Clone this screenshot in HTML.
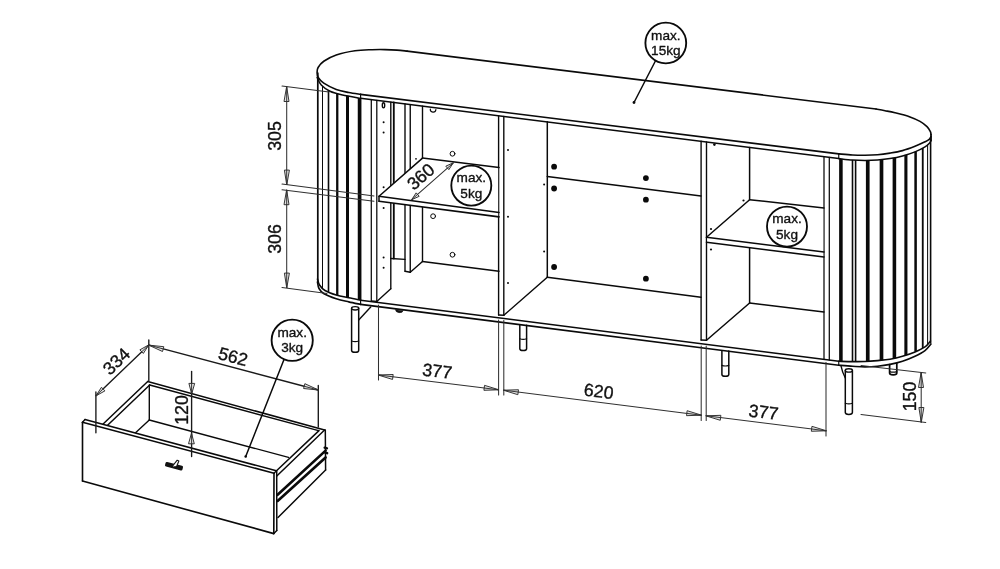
<!DOCTYPE html>
<html><head><meta charset="utf-8"><title>Sideboard dimensions</title>
<style>
html,body{margin:0;padding:0;background:#fff;}
body{width:1000px;height:569px;overflow:hidden;}
svg{display:block;will-change:transform;opacity:0.999;font-family:"Liberation Sans",sans-serif;}
</style></head><body>
<svg width="1000" height="569" viewBox="0 0 1000 569" stroke-linecap="round" stroke-linejoin="round">
<rect width="1000" height="569" fill="#fff"/>
<path d="M360.6,94.4 C358.62,94.08 352.81,93.33 348.75,92.5 C344.69,91.67 340.42,90.97 336.25,89.4 C332.08,87.83 326.76,85.08 323.75,83.1 C320.74,81.12 319.31,79.27 318.2,77.5 C317.09,75.73 317.12,74.17 317.1,72.5 C317.08,70.83 316.99,69.38 318.1,67.5 C319.21,65.62 320.73,63.33 323.75,61.25 C326.77,59.17 331.04,56.74 336.25,55 C341.46,53.26 349.04,51.68 355,50.8 C360.96,49.92 367.00,49.90 372,49.7 C377.00,49.50 380.83,49.53 385,49.6 C389.17,49.67 393.33,49.84 397,50.1 C400.67,50.36 405.33,50.98 407,51.15" stroke="#0a0a0a" stroke-width="1.61" fill="none" />
<line x1="407" y1="51.15" x2="876" y2="109" stroke="#0a0a0a" stroke-width="1.61" />
<path d="M876,109 C877.50,109.28 881.83,110.07 885,110.7 C888.17,111.33 890.83,111.77 895,112.8 C899.17,113.83 905.83,115.47 910,116.9 C914.17,118.33 917.17,119.78 920,121.4 C922.83,123.02 925.27,124.90 927,126.6 C928.73,128.30 929.73,130.28 930.4,131.6 C931.07,132.92 930.90,134.02 931,134.5" stroke="#0a0a0a" stroke-width="1.61" fill="none" />
<path d="M931,136.5 C930.70,136.98 930.20,138.52 929.2,139.4 C928.20,140.28 927.37,140.66 925,141.8 C922.63,142.94 918.75,144.78 915,146.25 C911.25,147.72 906.67,149.46 902.5,150.6 C898.33,151.74 894.17,152.41 890,153.1 C885.83,153.79 881.67,154.39 877.5,154.75 C873.33,155.11 869.17,155.21 865,155.25 C860.83,155.29 856.88,155.22 852.5,155 C848.12,154.78 841.04,154.08 838.75,153.9" stroke="#0a0a0a" stroke-width="1.61" fill="none" />
<line x1="838.75" y1="153.9" x2="360.6" y2="94.4" stroke="#0a0a0a" stroke-width="1.61" />
<path d="M360.6,98.3 C357.58,97.75 347.60,96.17 342.5,95 C337.40,93.83 333.54,92.92 330,91.25 C326.46,89.58 323.40,87.29 321.25,85 C319.10,82.71 317.79,78.75 317.1,77.5" stroke="#0a0a0a" stroke-width="1.49" fill="none" />
<line x1="360.6" y1="98.3" x2="838.75" y2="158.6" stroke="#0a0a0a" stroke-width="1.49" />
<path d="M838.75,158.6 C841.04,158.83 848.12,159.70 852.5,160 C856.88,160.30 860.83,160.40 865,160.4 C869.17,160.40 873.33,160.30 877.5,160 C881.67,159.70 885.83,159.27 890,158.6 C894.17,157.93 898.33,157.12 902.5,156 C906.67,154.88 911.25,153.42 915,151.9 C918.75,150.38 922.57,148.38 925,146.9 C927.43,145.42 928.60,144.07 929.6,143 C930.60,141.93 930.77,140.92 931,140.5" stroke="#0a0a0a" stroke-width="1.49" fill="none" />
<line x1="360.6" y1="94.4" x2="360.6" y2="98.3" stroke="#0a0a0a" stroke-width="1.15" />
<line x1="838.75" y1="153.9" x2="838.75" y2="158.6" stroke="#0a0a0a" stroke-width="1.15" />
<line x1="931" y1="134.5" x2="931" y2="140.5" stroke="#0a0a0a" stroke-width="1.72" />
<path d="M317.5,279 C317.83,280.00 318.25,283.08 319.5,285 C320.75,286.92 322.21,288.83 325,290.5 C327.79,292.17 332.29,293.78 336.25,295 C340.21,296.22 344.69,296.93 348.75,297.8 C352.81,298.68 358.62,299.84 360.6,300.25" stroke="#0a0a0a" stroke-width="1.61" fill="none" />
<path d="M317.5,282 C317.75,283.08 317.92,286.53 319,288.5 C320.08,290.47 321.12,292.09 324,293.8 C326.88,295.51 332.12,297.40 336.25,298.75 C340.38,300.10 344.69,300.96 348.75,301.9 C352.81,302.84 358.62,303.98 360.6,304.4" stroke="#0a0a0a" stroke-width="1.61" fill="none" />
<path d="M838.75,361.25 C841.04,361.31 848.12,361.56 852.5,361.6 C856.88,361.64 860.83,361.67 865,361.5 C869.17,361.33 873.33,360.98 877.5,360.6 C881.67,360.22 885.83,359.93 890,359.2 C894.17,358.47 898.33,357.47 902.5,356.25 C906.67,355.03 911.25,353.46 915,351.9 C918.75,350.34 922.42,348.72 925,346.9 C927.58,345.08 929.58,341.98 930.5,341" stroke="#0a0a0a" stroke-width="1.61" fill="none" />
<path d="M838.75,365.2 C841.04,365.38 848.12,365.97 852.5,366.25 C856.88,366.53 860.83,366.90 865,366.9 C869.17,366.90 873.33,366.67 877.5,366.25 C881.67,365.83 885.83,365.23 890,364.4 C894.17,363.57 898.33,362.61 902.5,361.25 C906.67,359.89 911.25,358.02 915,356.25 C918.75,354.48 922.33,352.64 925,350.6 C927.67,348.56 930.00,345.10 931,344" stroke="#0a0a0a" stroke-width="1.61" fill="none" />
<line x1="360.6" y1="300.25" x2="838.75" y2="361.25" stroke="#0a0a0a" stroke-width="1.61" />
<line x1="360.6" y1="304.4" x2="838.75" y2="365.2" stroke="#0a0a0a" stroke-width="1.61" />
<line x1="360.6" y1="300.25" x2="360.6" y2="304.4" stroke="#0a0a0a" stroke-width="1.15" />
<line x1="838.75" y1="361.25" x2="838.75" y2="365.2" stroke="#0a0a0a" stroke-width="1.15" />
<line x1="322.5" y1="85.9" x2="322.5" y2="288.0" stroke="#0a0a0a" stroke-width="1.03" stroke-linecap="butt"/>
<line x1="328.5" y1="90.2" x2="328.5" y2="291.9" stroke="#0a0a0a" stroke-width="1.61" stroke-linecap="butt"/>
<line x1="337.25" y1="93.4" x2="337.25" y2="295.2" stroke="#0a0a0a" stroke-width="2.3" stroke-linecap="butt"/>
<line x1="347.5" y1="95.9" x2="347.5" y2="297.5" stroke="#0a0a0a" stroke-width="2.99" stroke-linecap="butt"/>
<line x1="359.6" y1="98.1" x2="359.6" y2="300.0" stroke="#0a0a0a" stroke-width="3.68" stroke-linecap="butt"/>
<line x1="317.8" y1="73" x2="317.8" y2="283" stroke="#0a0a0a" stroke-width="1.72" />
<line x1="840.9" y1="158.8" x2="840.9" y2="361.3" stroke="#0a0a0a" stroke-width="3.56" stroke-linecap="butt"/>
<line x1="852.5" y1="160.0" x2="852.5" y2="361.6" stroke="#0a0a0a" stroke-width="1.61" stroke-linecap="butt"/>
<line x1="855.6" y1="160.1" x2="855.6" y2="361.6" stroke="#0a0a0a" stroke-width="1.61" stroke-linecap="butt"/>
<line x1="867.75" y1="160.3" x2="867.75" y2="361.3" stroke="#0a0a0a" stroke-width="3.68" stroke-linecap="butt"/>
<line x1="881.5" y1="159.6" x2="881.5" y2="360.2" stroke="#0a0a0a" stroke-width="3.68" stroke-linecap="butt"/>
<line x1="894.4" y1="157.7" x2="894.4" y2="358.2" stroke="#0a0a0a" stroke-width="3.56" stroke-linecap="butt"/>
<line x1="905.9" y1="154.9" x2="905.9" y2="355.1" stroke="#0a0a0a" stroke-width="3.1" stroke-linecap="butt"/>
<line x1="915.6" y1="151.6" x2="915.6" y2="351.6" stroke="#0a0a0a" stroke-width="2.53" stroke-linecap="butt"/>
<line x1="922.75" y1="148.0" x2="922.75" y2="348.0" stroke="#0a0a0a" stroke-width="1.84" stroke-linecap="butt"/>
<line x1="927.6" y1="144.7" x2="927.6" y2="344.1" stroke="#0a0a0a" stroke-width="1.03" stroke-linecap="butt"/>
<line x1="930.6" y1="138" x2="930.6" y2="343" stroke="#0a0a0a" stroke-width="1.61" />
<line x1="371.3" y1="99.6" x2="371.3" y2="301.0" stroke="#0a0a0a" stroke-width="1.26" />
<line x1="376.8" y1="100.3" x2="376.8" y2="301.4" stroke="#0a0a0a" stroke-width="1.26" />
<line x1="371.3" y1="301.0" x2="376.8" y2="301.4" stroke="#0a0a0a" stroke-width="1.26" />
<line x1="390.8" y1="102.1" x2="390.8" y2="288.8" stroke="#0a0a0a" stroke-width="1.38" />
<line x1="376.8" y1="301.4" x2="390.8" y2="288.8" stroke="#0a0a0a" stroke-width="1.38" />
<line x1="393.8" y1="102.5" x2="393.8" y2="258.5" stroke="#0a0a0a" stroke-width="1.84" />
<line x1="390.8" y1="258.5" x2="405" y2="259.4" stroke="#0a0a0a" stroke-width="1.38" />
<line x1="405" y1="103.9" x2="405" y2="271.25" stroke="#0a0a0a" stroke-width="1.38" />
<line x1="410.25" y1="104.6" x2="410.25" y2="272.25" stroke="#0a0a0a" stroke-width="1.38" />
<line x1="405" y1="271.25" x2="410.25" y2="272.25" stroke="#0a0a0a" stroke-width="1.38" />
<line x1="410.25" y1="272.25" x2="422.5" y2="261.5" stroke="#0a0a0a" stroke-width="1.38" />
<line x1="422.5" y1="106.1" x2="422.5" y2="261.5" stroke="#0a0a0a" stroke-width="1.38" />
<line x1="422.5" y1="261.5" x2="499" y2="271.2" stroke="#0a0a0a" stroke-width="1.49" />
<ellipse cx="383.5" cy="105.3" rx="1.2" ry="2.6" fill="#fff" stroke="#0a0a0a" stroke-width="1.4"/>
<circle cx="383.6" cy="122.25" r="1.0" fill="#0a0a0a"/>
<circle cx="383.6" cy="132.5" r="1.0" fill="#0a0a0a"/>
<circle cx="383.6" cy="187.25" r="1.0" fill="#0a0a0a"/>
<circle cx="383.6" cy="208.1" r="1.0" fill="#0a0a0a"/>
<circle cx="383.6" cy="257.5" r="1.0" fill="#0a0a0a"/>
<circle cx="383.6" cy="267.75" r="1.0" fill="#0a0a0a"/>
<circle cx="416" cy="158.8" r="0.9" fill="#0a0a0a"/>
<path d="M430.3,109 A2.8,2.8 0 0 0 435.9,109.6" stroke="#0a0a0a" stroke-width="1.15" fill="none" />
<circle cx="452.5" cy="153.75" r="2.4" stroke="#0a0a0a" stroke-width="1.0" fill="none"/>
<circle cx="433.1" cy="216.2" r="2.4" stroke="#0a0a0a" stroke-width="1.0" fill="none"/>
<circle cx="452.5" cy="254.75" r="2.4" stroke="#0a0a0a" stroke-width="1.0" fill="none"/>
<line x1="498.6" y1="115.7" x2="498.6" y2="315.0" stroke="#0a0a0a" stroke-width="1.38" />
<line x1="503.8" y1="116.4" x2="503.8" y2="315.3" stroke="#0a0a0a" stroke-width="1.38" />
<line x1="498.6" y1="315.0" x2="503.8" y2="315.3" stroke="#0a0a0a" stroke-width="1.38" />
<line x1="547.3" y1="121.8" x2="547.3" y2="277.25" stroke="#0a0a0a" stroke-width="1.49" />
<line x1="503.8" y1="315.3" x2="547.3" y2="277.25" stroke="#0a0a0a" stroke-width="1.49" />
<circle cx="508" cy="150" r="1.0" fill="#0a0a0a"/>
<circle cx="508" cy="216.8" r="1.0" fill="#0a0a0a"/>
<circle cx="544.1" cy="184.5" r="1.0" fill="#0a0a0a"/>
<circle cx="544.1" cy="251.6" r="1.0" fill="#0a0a0a"/>
<circle cx="508" cy="283" r="1.0" fill="#0a0a0a"/>
<line x1="547.3" y1="176.5" x2="701" y2="195.9" stroke="#0a0a0a" stroke-width="1.49" />
<line x1="547.3" y1="277.25" x2="701" y2="297.3" stroke="#0a0a0a" stroke-width="1.49" />
<circle cx="554.1" cy="166.7" r="2.9" fill="#0a0a0a"/>
<circle cx="554.1" cy="188.5" r="2.9" fill="#0a0a0a"/>
<circle cx="645.9" cy="178.1" r="2.9" fill="#0a0a0a"/>
<circle cx="645.9" cy="199.7" r="2.9" fill="#0a0a0a"/>
<circle cx="554.1" cy="267" r="2.9" fill="#0a0a0a"/>
<circle cx="645.9" cy="278.7" r="2.9" fill="#0a0a0a"/>
<line x1="701.1" y1="141.2" x2="701.1" y2="340.0" stroke="#0a0a0a" stroke-width="1.38" />
<line x1="706.5" y1="141.9" x2="706.5" y2="340.3" stroke="#0a0a0a" stroke-width="1.38" />
<line x1="701.1" y1="340.0" x2="706.5" y2="340.3" stroke="#0a0a0a" stroke-width="1.38" />
<line x1="749.6" y1="147.4" x2="749.6" y2="303" stroke="#0a0a0a" stroke-width="1.49" />
<line x1="706.5" y1="340.3" x2="749.6" y2="303" stroke="#0a0a0a" stroke-width="1.49" />
<line x1="749.6" y1="303" x2="824" y2="312" stroke="#0a0a0a" stroke-width="1.49" />
<line x1="824" y1="156.7" x2="824" y2="359.4" stroke="#0a0a0a" stroke-width="1.26" />
<line x1="829.3" y1="157.4" x2="829.3" y2="360.0" stroke="#0a0a0a" stroke-width="1.26" />
<circle cx="714.4" cy="144.6" r="1.3" fill="#0a0a0a"/>
<circle cx="743.5" cy="200.5" r="1.1" fill="#0a0a0a"/>
<circle cx="711" cy="229" r="1.1" fill="#0a0a0a"/>
<circle cx="711" cy="249.5" r="1.1" fill="#0a0a0a"/>
<path d="M422.5,158.1 L498.2,167.5 L498.2,216.8 L379,201.3 L379,196.3 Z" stroke="none" stroke-width="0.0" fill="#fff" />
<path d="M422.5,158.1 L379,196.3 L379,201.3" stroke="#0a0a0a" stroke-width="1.49" fill="none" />
<line x1="422.5" y1="158.1" x2="499" y2="167.6" stroke="#0a0a0a" stroke-width="1.49" />
<line x1="379" y1="196.3" x2="499" y2="212.5" stroke="#0a0a0a" stroke-width="1.61" />
<line x1="379" y1="201.3" x2="499" y2="216.9" stroke="#0a0a0a" stroke-width="1.61" />
<path d="M749.6,199.7 L823.2,207.9 L823.2,256.9 L707.3,242.4 L707.3,236.5 Z" stroke="none" stroke-width="0.0" fill="#fff" />
<line x1="749.6" y1="199.7" x2="824" y2="208" stroke="#0a0a0a" stroke-width="1.49" />
<line x1="749.6" y1="199.7" x2="706.5" y2="237.2" stroke="#0a0a0a" stroke-width="1.49" />
<line x1="706.5" y1="237.2" x2="824" y2="252" stroke="#0a0a0a" stroke-width="1.61" />
<line x1="706.5" y1="242.3" x2="824" y2="257" stroke="#0a0a0a" stroke-width="1.61" />
<line x1="282" y1="86" x2="329" y2="92" stroke="#303030" stroke-width="1.04" />
<line x1="282" y1="184" x2="374" y2="196" stroke="#303030" stroke-width="1.04" />
<line x1="282" y1="189.7" x2="374" y2="201.3" stroke="#303030" stroke-width="1.04" />
<line x1="282" y1="287.6" x2="327" y2="293.4" stroke="#303030" stroke-width="1.04" />
<line x1="286.7" y1="87" x2="286.7" y2="184.6" stroke="#303030" stroke-width="1.04" />
<path d="M286.70,87.00 L289.00,101.50 L284.40,101.50 Z" stroke="#303030" stroke-width="0.98" fill="#e2e2e2" />
<line x1="286.7" y1="101.5" x2="286.7" y2="87" stroke="#303030" stroke-width="0.98" />
<path d="M286.70,184.60 L284.40,170.10 L289.00,170.10 Z" stroke="#303030" stroke-width="0.98" fill="#e2e2e2" />
<line x1="286.7" y1="170.1" x2="286.7" y2="184.6" stroke="#303030" stroke-width="0.98" />
<line x1="286.7" y1="190.2" x2="286.7" y2="287.6" stroke="#303030" stroke-width="1.04" />
<path d="M286.70,190.20 L289.00,204.70 L284.40,204.70 Z" stroke="#303030" stroke-width="0.98" fill="#e2e2e2" />
<line x1="286.7" y1="204.7" x2="286.7" y2="190.2" stroke="#303030" stroke-width="0.98" />
<path d="M286.70,287.60 L284.40,273.10 L289.00,273.10 Z" stroke="#303030" stroke-width="0.98" fill="#e2e2e2" />
<line x1="286.7" y1="273.1" x2="286.7" y2="287.6" stroke="#303030" stroke-width="0.98" />
<text transform="translate(281.2,136) rotate(-90) scale(1.0,1)" font-size="17.8" text-anchor="middle" font-weight="normal" fill="#111" stroke="#111" stroke-width="0.35">305</text>
<text transform="translate(281.2,239) rotate(-90) scale(1.0,1)" font-size="17.8" text-anchor="middle" font-weight="normal" fill="#111" stroke="#111" stroke-width="0.35">306</text>
<line x1="453.1" y1="163.1" x2="411.9" y2="199.4" stroke="#303030" stroke-width="1.04" />
<path d="M453.10,163.10 L448.86,169.63 L446.08,166.48 Z" stroke="#303030" stroke-width="0.98" fill="#e2e2e2" />
<line x1="447.47" y1="168.06" x2="453.1" y2="163.1" stroke="#303030" stroke-width="0.98" />
<path d="M411.90,199.40 L416.14,192.87 L418.92,196.02 Z" stroke="#303030" stroke-width="0.98" fill="#e2e2e2" />
<line x1="417.53" y1="194.44" x2="411.9" y2="199.4" stroke="#303030" stroke-width="0.98" />
<text transform="translate(424.8,181.2) rotate(-41.3) scale(1.0,1)" font-size="17.8" text-anchor="middle" font-weight="normal" fill="#111" stroke="#111" stroke-width="0.35">360</text>
<circle cx="471.3" cy="185.6" r="20" stroke="#0a0a0a" stroke-width="1.85" fill="#fff"/>
<text transform="translate(471.3,182.2) rotate(0) scale(1.0,1)" font-size="13.6" text-anchor="middle" font-weight="normal" fill="#111" stroke="#111" stroke-width="0.35">max.</text>
<text transform="translate(471.3,197.7) rotate(0) scale(1.0,1)" font-size="13.6" text-anchor="middle" font-weight="normal" fill="#111" stroke="#111" stroke-width="0.35">5kg</text>
<circle cx="787.0" cy="226.6" r="20" stroke="#0a0a0a" stroke-width="1.85" fill="#fff"/>
<text transform="translate(787.0,223.2) rotate(0) scale(1.0,1)" font-size="13.6" text-anchor="middle" font-weight="normal" fill="#111" stroke="#111" stroke-width="0.35">max.</text>
<text transform="translate(787.0,238.7) rotate(0) scale(1.0,1)" font-size="13.6" text-anchor="middle" font-weight="normal" fill="#111" stroke="#111" stroke-width="0.35">5kg</text>
<line x1="655.4" y1="61" x2="634" y2="102.5" stroke="#0a0a0a" stroke-width="1.49" />
<circle cx="634" cy="102.5" r="1.4" fill="#0a0a0a"/>
<circle cx="665.8" cy="43" r="20.4" stroke="#0a0a0a" stroke-width="1.85" fill="#fff"/>
<text transform="translate(665.8,39.6) rotate(0) scale(1.0,1)" font-size="13.6" text-anchor="middle" font-weight="normal" fill="#111" stroke="#111" stroke-width="0.35">max.</text>
<text transform="translate(665.8,55.1) rotate(0) scale(1.0,1)" font-size="13.6" text-anchor="middle" font-weight="normal" fill="#111" stroke="#111" stroke-width="0.35">15kg</text>
<path d="M351.6,308.3 L351.6,350.4 Q351.6,352.2 355.15,352.2 Q358.7,352.2 358.7,350.4 L358.7,308.3" stroke="#0a0a0a" stroke-width="1.49" fill="#fff" />
<path d="M351.6,341.0 Q355.15,342.2 358.7,341.0" stroke="#0a0a0a" stroke-width="1.15" fill="none" />
<ellipse cx="355.15" cy="308.3" rx="3.549999999999983" ry="1.7" fill="#fff" stroke="#0a0a0a" stroke-width="1.4"/>
<line x1="358.7" y1="320" x2="370.7" y2="307" stroke="#0a0a0a" stroke-width="1.38" />
<path d="M395.5,309.8 A3.9,2.6 7 0 0 403.2,310.8 Z" fill="#111" stroke="#111" stroke-width="0.6"/>
<path d="M519.8,325.2 L519.8,348.8 Q519.8,350.6 523.2,350.6 Q526.6,350.6 526.6,348.8 L526.6,325.2" stroke="#0a0a0a" stroke-width="1.49" fill="none" />
<path d="M519.8,338.8 Q523.2,340.0 526.6,338.8" stroke="#0a0a0a" stroke-width="1.15" fill="none" />
<path d="M721.9,350.9 L721.9,374.4 Q721.9,376.2 725.3499999999999,376.2 Q728.8,376.2 728.8,374.4 L728.8,350.9" stroke="#0a0a0a" stroke-width="1.49" fill="none" />
<path d="M721.9,365.4 Q725.3499999999999,366.59999999999997 728.8,365.4" stroke="#0a0a0a" stroke-width="1.15" fill="none" />
<path d="M845.3,370.4 L845.3,412.59999999999997 Q845.3,414.4 848.8499999999999,414.4 Q852.4,414.4 852.4,412.59999999999997 L852.4,370.4" stroke="#0a0a0a" stroke-width="1.49" fill="#fff" />
<path d="M845.3,403.3 Q848.8499999999999,404.5 852.4,403.3" stroke="#0a0a0a" stroke-width="1.15" fill="none" />
<ellipse cx="848.8499999999999" cy="370.4" rx="3.5500000000000114" ry="1.7" fill="#fff" stroke="#0a0a0a" stroke-width="1.4"/>
<path d="M841,365.9 Q842.2,372 845.3,378" stroke="#0a0a0a" stroke-width="1.38" fill="none" />
<path d="M889.6,364.6 L889.6,373 Q889.6,374.8 893.2,374.8 Q896.8,374.8 896.8,373 L896.8,363.4" stroke="#0a0a0a" stroke-width="1.72" fill="none" />
<path d="M889.6,371.6 Q893.2,372.8 896.8,371.6" stroke="#0a0a0a" stroke-width="1.15" fill="none" />
<line x1="378.5" y1="305" x2="378.5" y2="380" stroke="#303030" stroke-width="1.04" />
<line x1="498.6" y1="320" x2="498.6" y2="395" stroke="#303030" stroke-width="1.04" />
<line x1="503.8" y1="320.5" x2="503.8" y2="395" stroke="#303030" stroke-width="1.04" />
<line x1="701.2" y1="346" x2="701.2" y2="420.5" stroke="#303030" stroke-width="1.04" />
<line x1="706.2" y1="346" x2="706.2" y2="420.5" stroke="#303030" stroke-width="1.04" />
<line x1="826" y1="362.5" x2="826" y2="436" stroke="#303030" stroke-width="1.04" />
<line x1="378.5" y1="375" x2="498.6" y2="389.8" stroke="#303030" stroke-width="1.04" />
<path d="M378.50,375.00 L393.17,374.49 L392.61,379.06 Z" stroke="#303030" stroke-width="0.98" fill="#e2e2e2" />
<line x1="392.89" y1="376.77" x2="378.5" y2="375" stroke="#303030" stroke-width="0.98" />
<path d="M498.60,389.80 L483.93,390.31 L484.49,385.74 Z" stroke="#303030" stroke-width="0.98" fill="#e2e2e2" />
<line x1="484.21" y1="388.03" x2="498.6" y2="389.8" stroke="#303030" stroke-width="0.98" />
<line x1="503.8" y1="390.2" x2="701.2" y2="415.2" stroke="#303030" stroke-width="1.04" />
<path d="M503.80,390.20 L518.47,389.74 L517.90,394.30 Z" stroke="#303030" stroke-width="0.98" fill="#e2e2e2" />
<line x1="518.19" y1="392.02" x2="503.8" y2="390.2" stroke="#303030" stroke-width="0.98" />
<path d="M701.20,415.20 L686.53,415.66 L687.10,411.10 Z" stroke="#303030" stroke-width="0.98" fill="#e2e2e2" />
<line x1="686.81" y1="413.38" x2="701.2" y2="415.2" stroke="#303030" stroke-width="0.98" />
<line x1="706.2" y1="415.8" x2="826" y2="430.8" stroke="#303030" stroke-width="1.04" />
<path d="M706.20,415.80 L720.87,415.32 L720.30,419.88 Z" stroke="#303030" stroke-width="0.98" fill="#e2e2e2" />
<line x1="720.59" y1="417.6" x2="706.2" y2="415.8" stroke="#303030" stroke-width="0.98" />
<path d="M826.00,430.80 L811.33,431.28 L811.90,426.72 Z" stroke="#303030" stroke-width="0.98" fill="#e2e2e2" />
<line x1="811.61" y1="429.0" x2="826" y2="430.8" stroke="#303030" stroke-width="0.98" />
<text transform="translate(436.5,377.2) rotate(7) scale(1.0,1)" font-size="17.8" text-anchor="middle" font-weight="normal" fill="#111" stroke="#111" stroke-width="0.35">377</text>
<text transform="translate(598,397.3) rotate(7) scale(1.0,1)" font-size="17.8" text-anchor="middle" font-weight="normal" fill="#111" stroke="#111" stroke-width="0.35">620</text>
<text transform="translate(762.8,418.2) rotate(7) scale(1.0,1)" font-size="17.8" text-anchor="middle" font-weight="normal" fill="#111" stroke="#111" stroke-width="0.35">377</text>
<line x1="861" y1="365.6" x2="925.8" y2="373" stroke="#303030" stroke-width="1.04" />
<line x1="861" y1="414.5" x2="925.8" y2="422.5" stroke="#303030" stroke-width="1.04" />
<line x1="921.2" y1="373" x2="921.2" y2="422" stroke="#303030" stroke-width="1.04" />
<path d="M921.20,373.00 L923.50,387.50 L918.90,387.50 Z" stroke="#303030" stroke-width="0.98" fill="#e2e2e2" />
<line x1="921.2" y1="387.5" x2="921.2" y2="373" stroke="#303030" stroke-width="0.98" />
<path d="M921.20,422.00 L918.90,407.50 L923.50,407.50 Z" stroke="#303030" stroke-width="0.98" fill="#e2e2e2" />
<line x1="921.2" y1="407.5" x2="921.2" y2="422" stroke="#303030" stroke-width="0.98" />
<text transform="translate(916,396.5) rotate(-90) scale(1.0,1)" font-size="17.8" text-anchor="middle" font-weight="normal" fill="#111" stroke="#111" stroke-width="0.35">150</text>
<line x1="147.7" y1="381.5" x2="324.6" y2="430" stroke="#0a0a0a" stroke-width="1.49" />
<line x1="149.7" y1="385" x2="318.5" y2="430.6" stroke="#0a0a0a" stroke-width="1.49" />
<line x1="147.7" y1="381.5" x2="103.1" y2="424" stroke="#0a0a0a" stroke-width="1.49" />
<line x1="149.7" y1="385" x2="107.6" y2="425.2" stroke="#0a0a0a" stroke-width="1.49" />
<line x1="149.3" y1="385" x2="149.3" y2="420" stroke="#0a0a0a" stroke-width="1.38" />
<line x1="149.3" y1="420" x2="135.8" y2="432.5" stroke="#0a0a0a" stroke-width="1.38" />
<line x1="149.3" y1="420" x2="288.5" y2="457.4" stroke="#0a0a0a" stroke-width="1.38" />
<line x1="324.6" y1="430" x2="276.8" y2="476" stroke="#0a0a0a" stroke-width="1.49" />
<line x1="319" y1="430.6" x2="276.5" y2="470.8" stroke="#0a0a0a" stroke-width="1.49" />
<line x1="325.3" y1="430" x2="325.6" y2="470" stroke="#0a0a0a" stroke-width="1.49" />
<line x1="325.6" y1="470" x2="278" y2="517.5" stroke="#0a0a0a" stroke-width="1.49" />
<line x1="325.6" y1="450.6" x2="277.6" y2="494.8" stroke="#0a0a0a" stroke-width="2.64" />
<line x1="325.6" y1="457.4" x2="277.6" y2="500.9" stroke="#0a0a0a" stroke-width="2.64" />
<line x1="324.6" y1="447.6" x2="327" y2="448.4" stroke="#0a0a0a" stroke-width="2.3" />
<line x1="324.6" y1="452.4" x2="327.2" y2="453.2" stroke="#0a0a0a" stroke-width="2.3" />
<line x1="85" y1="419.5" x2="276.3" y2="470.8" stroke="#0a0a0a" stroke-width="1.49" />
<line x1="82.5" y1="422.3" x2="274" y2="473.2" stroke="#0a0a0a" stroke-width="1.49" />
<line x1="82.5" y1="422.3" x2="85" y2="419.5" stroke="#0a0a0a" stroke-width="1.38" />
<line x1="274" y1="473.2" x2="276.5" y2="470.8" stroke="#0a0a0a" stroke-width="1.38" />
<line x1="82.5" y1="422.3" x2="82.5" y2="481" stroke="#0a0a0a" stroke-width="1.61" />
<line x1="82.5" y1="481" x2="273.8" y2="533.6" stroke="#0a0a0a" stroke-width="1.61" />
<line x1="274" y1="473.2" x2="273.8" y2="533.6" stroke="#0a0a0a" stroke-width="1.61" />
<line x1="276.7" y1="470.8" x2="276.8" y2="530.5" stroke="#0a0a0a" stroke-width="1.49" />
<line x1="273.8" y1="533.6" x2="276.8" y2="530.5" stroke="#0a0a0a" stroke-width="1.38" />
<g transform="translate(174,466.2) rotate(14.5)"><rect x="-9" y="-2.4" width="18" height="4.8" rx="1.4" fill="#111"/><path d="M-2,1.6 L1.6,-6.6 L3.4,-6.2 L2.6,-0.4 Z" fill="#fff" stroke="#111" stroke-width="1.1"/></g>
<line x1="148.8" y1="340" x2="148.8" y2="381" stroke="#1a1a1a" stroke-width="1.37" />
<line x1="95.9" y1="392" x2="95.9" y2="432.8" stroke="#1a1a1a" stroke-width="1.37" />
<line x1="318.3" y1="385.5" x2="318.3" y2="427" stroke="#1a1a1a" stroke-width="1.37" />
<line x1="148.6" y1="345.2" x2="96.2" y2="395.5" stroke="#1a1a1a" stroke-width="1.37" />
<path d="M148.60,345.20 L143.34,353.44 L140.15,350.12 Z" stroke="#303030" stroke-width="0.98" fill="#e2e2e2" />
<line x1="141.75" y1="351.78" x2="148.6" y2="345.2" stroke="#303030" stroke-width="0.98" />
<path d="M96.20,395.50 L101.46,387.26 L104.65,390.58 Z" stroke="#303030" stroke-width="0.98" fill="#e2e2e2" />
<line x1="103.05" y1="388.92" x2="96.2" y2="395.5" stroke="#303030" stroke-width="0.98" />
<line x1="149.2" y1="345.2" x2="318.2" y2="390" stroke="#1a1a1a" stroke-width="1.37" />
<path d="M149.20,345.20 L163.81,346.69 L162.63,351.14 Z" stroke="#303030" stroke-width="0.98" fill="#e2e2e2" />
<line x1="163.22" y1="348.92" x2="149.2" y2="345.2" stroke="#303030" stroke-width="0.98" />
<path d="M318.20,390.00 L303.59,388.51 L304.77,384.06 Z" stroke="#303030" stroke-width="0.98" fill="#e2e2e2" />
<line x1="304.18" y1="386.28" x2="318.2" y2="390" stroke="#303030" stroke-width="0.98" />
<text transform="translate(120.6,365.6) rotate(-43.9) scale(1.0,1)" font-size="17.8" text-anchor="middle" font-weight="normal" fill="#111" stroke="#111" stroke-width="0.35">334</text>
<text transform="translate(231.5,362.5) rotate(14.9) scale(1.0,1)" font-size="17.8" text-anchor="middle" font-weight="normal" fill="#111" stroke="#111" stroke-width="0.35">562</text>
<line x1="191.6" y1="371.5" x2="191.6" y2="456.5" stroke="#1a1a1a" stroke-width="1.37" />
<path d="M191.60,393.60 L188.90,383.40 L194.30,383.40 Z" stroke="#303030" stroke-width="0.98" fill="#e2e2e2" />
<line x1="191.6" y1="383.4" x2="191.6" y2="393.6" stroke="#303030" stroke-width="0.98" />
<path d="M191.60,433.60 L194.30,443.80 L188.90,443.80 Z" stroke="#303030" stroke-width="0.98" fill="#e2e2e2" />
<line x1="191.6" y1="443.8" x2="191.6" y2="433.6" stroke="#303030" stroke-width="0.98" />
<text transform="translate(187.5,410) rotate(-90) scale(1.0,1)" font-size="17.8" text-anchor="middle" font-weight="normal" fill="#111" stroke="#111" stroke-width="0.35">120</text>
<line x1="284.2" y1="359" x2="245.7" y2="456.5" stroke="#0a0a0a" stroke-width="1.49" />
<circle cx="245.7" cy="456.5" r="1.3" fill="#0a0a0a"/>
<circle cx="292.2" cy="340.3" r="20.6" stroke="#0a0a0a" stroke-width="1.85" fill="#fff"/>
<text transform="translate(292.2,336.90000000000003) rotate(0) scale(1.0,1)" font-size="13.6" text-anchor="middle" font-weight="normal" fill="#111" stroke="#111" stroke-width="0.35">max.</text>
<text transform="translate(292.2,352.40000000000003) rotate(0) scale(1.0,1)" font-size="13.6" text-anchor="middle" font-weight="normal" fill="#111" stroke="#111" stroke-width="0.35">3kg</text>
</svg>
</body></html>
